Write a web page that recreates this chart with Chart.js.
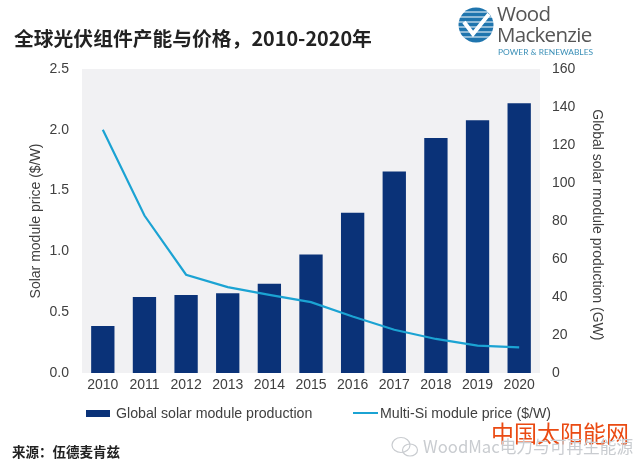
<!DOCTYPE html>
<html>
<head>
<meta charset="utf-8">
<script src="https://cdn.jsdelivr.net/npm/chart.js@4/dist/chart.umd.min.js"></script>
<style>
    html, body { margin: 0; padding: 0; background: #fff; overflow: hidden; }
    #wrap { position: relative; width: 640px; height: 462px; font-family: "Liberation Sans", Arial, sans-serif; }
    #wrap div, #wrap svg { position: absolute; white-space: nowrap; }
    .cjk { font-family: "Noto Sans CJK SC", sans-serif; }
    .legendText { font-size: 14.2px; color: #404040; top: 405px; }
</style>
</head>
<body>
<div id="wrap">
    <canvas id="myChart" width="640" height="462"></canvas>
    <div class="cjk" style="left:14px;top:25px;font-size:19.8px;font-weight:700;color:#222;line-height:26px">全球光伏组件产能与价格，2010-2020年</div>

    <svg style="left:458px;top:7px" width="36" height="36" viewBox="0 0 36 36">
        <circle cx="18" cy="18" r="17.5" fill="#1f75ae"/>
        <g stroke="#fff" stroke-width="1.1">
            <line x1="0" y1="5" x2="36" y2="5"/>
            <line x1="0" y1="10" x2="36" y2="10"/>
            <line x1="0" y1="15" x2="36" y2="15"/>
            <line x1="0" y1="20" x2="36" y2="20"/>
            <line x1="0" y1="25" x2="36" y2="25"/>
            <line x1="0" y1="30" x2="36" y2="30"/>
        </g>
        <path d="M6 15 L15 27 L31 7" fill="none" stroke="#fff" stroke-width="4"/>
    </svg>
    <div style="left:497px;top:3px;font-family:'Open Sans',sans-serif;font-size:20.5px;color:#555;line-height:21px;letter-spacing:-0.7px">Wood<br>Mackenzie</div>
    <div style="left:498px;top:47px;font-family:Lato,sans-serif;font-size:8.4px;color:#3a8fb7">POWER &amp; RENEWABLES</div>

    <div id="barKey" style="left:86px;top:410px;width:24px;height:7px"></div>
    <div class="legendText" id="barLabel" style="left:116px"></div>
    <div id="lineKey" style="left:353px;top:412px;width:25px;height:2px"></div>
    <div class="legendText" id="lineLabel" style="left:380px"></div>

    <div class="cjk" style="left:12px;top:441px;font-size:13.5px;font-weight:700;color:#222">来源：伍德麦肯兹</div>
    <div class="cjk" style="left:491px;top:415px;font-size:23px;color:#ea4a12">中国太阳能网</div>
    <svg style="left:391px;top:436px" width="28" height="22" viewBox="0 0 28 22">
        <g fill="none" stroke="#c9ccd0" stroke-width="1.2">
            <ellipse cx="10" cy="9" rx="9" ry="7.5"/>
            <ellipse cx="19" cy="14" rx="7.5" ry="6"/>
        </g>
    </svg>
    <div class="cjk" style="left:423px;top:434px;font-size:16.7px;color:#c9ccd0">WoodMac电力与可再生能源</div>
</div>

<script>
const years = ['2010', '2011', '2012', '2013', '2014', '2015', '2016', '2017', '2018', '2019', '2020'];
const production = [24.7, 40, 41, 42, 47, 62.4, 84.4, 106, 123.7, 133, 142];
const price = [2.0, 1.295, 0.808, 0.706, 0.643, 0.583, 0.465, 0.356, 0.28, 0.225, 0.21];
const barName = 'Global solar module production';
const lineName = 'Multi-Si module price ($/W)';
const barColor = '#0a3278';
const lineColor = '#1ba3d3';
const textColor = '#404040';

document.getElementById('barKey').style.background = barColor;
document.getElementById('lineKey').style.background = lineColor;
document.getElementById('barLabel').textContent = barName;
document.getElementById('lineLabel').textContent = lineName;

const plotBackground = {
    id: 'plotBackground',
    beforeDraw(chart) {
        const a = chart.chartArea;
        chart.ctx.fillStyle = '#f1f1f3';
        chart.ctx.fillRect(a.left, a.top, a.right - a.left, a.bottom - a.top);
    }
};

const tickFont = { family: '"Liberation Sans", Arial, sans-serif', size: 14 };
const noGrid = { display: false, drawTicks: false };

const ctx = document.getElementById('myChart').getContext('2d');
const myChart = new Chart(ctx, {
    type: 'bar',
    data: {
        labels: years,
        datasets: [
            {
                type: 'line',
                label: lineName,
                data: price,
                yAxisID: 'y1',
                borderColor: lineColor,
                borderWidth: 2.2,
                pointRadius: 0,
                tension: 0,
                order: 1
            },
            {
                label: barName,
                data: production,
                yAxisID: 'y2',
                backgroundColor: barColor,
                categoryPercentage: 1,
                barPercentage: 0.56,
                order: 2
            }
        ]
    },
    options: {
        responsive: false,
        animation: false,
        layout: { padding: { top: 69 } },
        plugins: { legend: { display: false }, tooltip: { enabled: false } },
        scales: {
            x: {
                grid: noGrid,
                border: { display: false },
                ticks: { color: textColor, font: tickFont, padding: 4, maxRotation: 0, autoSkip: false },
                afterFit(axis) { axis.height = 89; }
            },
            y1: {
                position: 'left',
                min: 0,
                max: 2.5,
                grid: noGrid,
                border: { display: false },
                ticks: { color: textColor, font: tickFont, stepSize: 0.5, padding: 13, callback: v => v.toFixed(1) },
                title: { display: true, text: 'Solar module price ($/W)', color: textColor, font: tickFont, padding: { top: 28, bottom: 0 } },
                afterFit(axis) { axis.width = 82; }
            },
            y2: {
                position: 'right',
                min: 0,
                max: 160,
                grid: noGrid,
                border: { display: false },
                ticks: { color: textColor, font: tickFont, stepSize: 20, padding: 12 },
                // leading spaces push the title a little below the axis centre, as in the source
                title: { display: true, text: '  Global solar module production (GW)', color: textColor, font: tickFont, padding: { top: 35, bottom: 0 } },
                afterFit(axis) { axis.width = 100; }
            }
        }
    },
    plugins: [plotBackground]
});
</script>
</body>
</html>
